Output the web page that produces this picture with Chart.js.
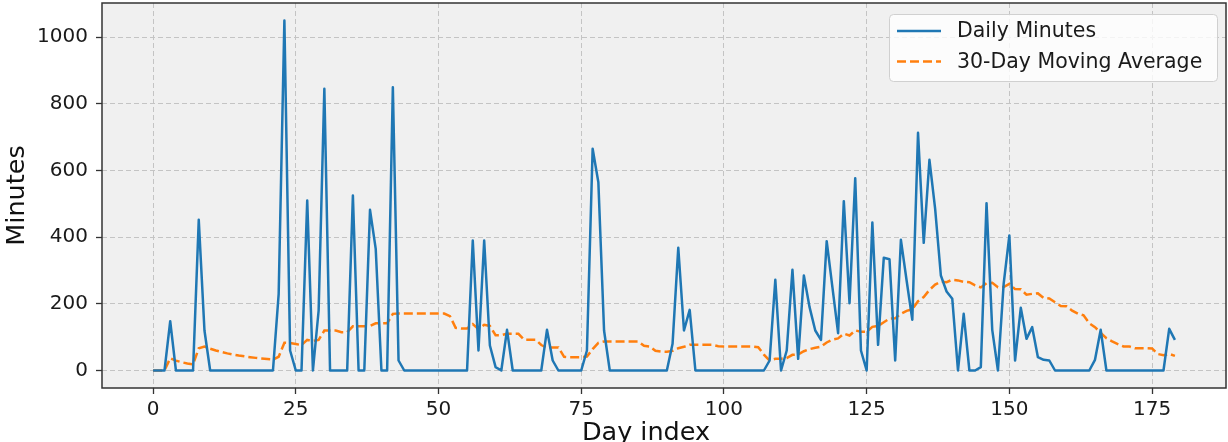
<!DOCTYPE html>
<html>
<head>
<meta charset="utf-8">
<script src="https://cdn.jsdelivr.net/npm/chart.js@4.4.0/dist/chart.umd.min.js"></script>
<style>
  html, body { margin: 0; padding: 0; background: #fff; }
  canvas { display: block; }
</style>
</head>
<body>
<canvas id="graph01" width="1228" height="442"></canvas>
<script>
// minutes per day (index = day)
const dailyMinutes = [
  0, 0, 0, 148, 0, 0, 0, 0, 452, 120,
  0, 0, 0, 0, 0, 0, 0, 0, 0, 0,
  0, 0, 230, 1050, 60, 0, 0, 510, 0, 180,
  845, 0, 0, 0, 0, 525, 0, 0, 482, 365,
  0, 0, 850, 30, 0, 0, 0, 0, 0, 0,
  0, 0, 0, 0, 0, 0, 390, 60, 390, 75,
  10, 0, 122, 0, 0, 0, 0, 0, 0, 122,
  30, 0, 0, 0, 0, 0, 60, 665, 565, 120,
  0, 0, 0, 0, 0, 0, 0, 0, 0, 0,
  0, 80, 368, 120, 182, 0, 0, 0, 0, 0,
  0, 0, 0, 0, 0, 0, 0, 0, 30, 272,
  0, 60, 302, 35, 285, 190, 120, 92, 388, 250,
  112, 508, 202, 577, 60, 0, 444, 77, 338, 334,
  30, 392, 270, 152, 713, 383, 632, 485, 285, 237,
  215, 0, 170, 0, 0, 10, 502, 122, 0, 260,
  405, 30, 188, 95, 130, 40, 32, 30, 0, 0,
  0, 0, 0, 0, 0, 32, 122, 0, 0, 0,
  0, 0, 0, 0, 0, 0, 0, 0, 125, 92
];

// 30-day moving average as drawn in the picture
const movingAverage = [
  0, 0, 0, 37.0, 29.6, 24.7, 21.1, 18.5, 66.7, 72.0,
  65.5, 60.0, 55.4, 51.4, 48.0, 45.0, 42.4, 40.0, 37.9, 36.0,
  34.3, 32.7, 41.3, 83.3, 82.4, 79.2, 76.3, 91.8, 88.6, 91.7,
  119.8, 119.8, 119.8, 114.9, 114.9, 132.4, 132.4, 132.4, 133.4, 141.6,
  141.6, 141.6, 169.9, 170.9, 170.9, 170.9, 170.9, 170.9, 170.9, 170.9,
  170.9, 170.9, 163.2, 128.2, 126.2, 126.2, 139.2, 124.2, 137.2, 133.7,
  105.9, 105.9, 110.0, 110.0, 110.0, 92.5, 92.5, 92.5, 76.4, 68.3,
  69.3, 69.3, 41.0, 40.0, 40.0, 40.0, 42.0, 64.1, 83.0, 87.0,
  87.0, 87.0, 87.0, 87.0, 87.0, 87.0, 74.0, 72.0, 59.0, 56.5,
  56.1, 58.8, 67.0, 71.0, 77.1, 77.1, 77.1, 77.1, 77.1, 73.0,
  72.0, 72.0, 72.0, 72.0, 72.0, 72.0, 70.0, 47.8, 30.0, 35.1,
  35.1, 37.1, 47.1, 48.3, 57.8, 64.1, 68.1, 71.2, 84.1, 92.5,
  96.2, 110.5, 104.9, 120.2, 116.1, 116.1, 130.9, 133.5, 144.7, 155.9,
  156.9, 169.9, 178.9, 184.0, 207.8, 220.5, 241.6, 257.8, 266.3, 265.1,
  272.3, 270.3, 265.9, 264.7, 255.2, 249.2, 261.9, 262.9, 250.0, 250.3,
  260.1, 244.2, 243.7, 227.6, 230.0, 231.3, 217.6, 216.0, 204.7, 193.6,
  192.6, 179.5, 170.5, 165.5, 141.7, 130.0, 113.0, 96.8, 87.3, 79.4,
  72.3, 72.3, 66.6, 66.6, 66.6, 66.3, 49.5, 45.5, 49.6, 44.0
];

const seriesLabels = ['Daily Minutes', '30-Day Moving Average'];
const xTicks = [0, 25, 50, 75, 100, 125, 150, 175];
const yTicks = [0, 200, 400, 600, 800, 1000];
const xTitle = 'Day index';
const yTitle = 'Minutes';

const FONT = "'DejaVu Sans', sans-serif";

/**
 * fond, cadre, légende et titres des axes
 */
const decor = {
  id: 'decor',
  beforeDraw(chart) {
    const { ctx, chartArea: a } = chart;
    ctx.save();
    ctx.fillStyle = '#ffffff';
    ctx.fillRect(0, 0, chart.width, chart.height);
    ctx.fillStyle = '#f0f0f0';
    ctx.fillRect(a.left, a.top, a.right - a.left, a.bottom - a.top);
    ctx.restore();
  },
  afterDraw(chart) {
    const { ctx, chartArea: a } = chart;
    ctx.save();
    // cadre
    ctx.strokeStyle = '#333333';
    ctx.lineWidth = 1.5;
    ctx.strokeRect(a.left, a.top, a.right - a.left, a.bottom - a.top);

    // légende
    const bx = 889, by = 14, bw = 328, bh = 67;
    ctx.beginPath();
    ctx.roundRect(bx + 0.5, by + 0.5, bw, bh, 4);
    ctx.fillStyle = 'rgba(255,255,255,0.8)';
    ctx.fill();
    ctx.strokeStyle = '#d0d0d0';
    ctx.lineWidth = 1;
    ctx.stroke();
    ctx.font = '20.5px ' + FONT;
    ctx.textBaseline = 'middle';
    ctx.textAlign = 'left';
    chart.data.datasets.forEach((ds, i) => {
      const y = 31 + i * 30.5;
      ctx.beginPath();
      ctx.setLineDash(ds.borderDash || []);
      ctx.strokeStyle = ds.borderColor;
      ctx.lineWidth = ds.borderWidth;
      ctx.moveTo(897, y);
      ctx.lineTo(941, y);
      ctx.stroke();
      ctx.setLineDash([]);
      ctx.fillStyle = '#1a1a1a';
      ctx.fillText(ds.label, 957, y + 1);
    });

    // titres des axes
    ctx.fillStyle = '#111111';
    ctx.font = '25.5px ' + FONT;
    ctx.textAlign = 'center';
    ctx.textBaseline = 'alphabetic';
    ctx.fillText(xTitle, 646, 440);
    ctx.translate(24, (a.top + a.bottom) / 2);
    ctx.rotate(-Math.PI / 2);
    ctx.fillText(yTitle, 0, 0);
    ctx.restore();
  }
};

function dessine() {
  const ctx = document.getElementById('graph01').getContext('2d');
  const data = {
    datasets: [
      {
        label: seriesLabels[0],
        data: dailyMinutes.map((v, i) => ({ x: i, y: v })),
        borderColor: '#1f77b4',
        borderWidth: 2.5,
        borderJoinStyle: 'round',
        pointRadius: 0,
        tension: 0,
        fill: false
      },
      {
        label: seriesLabels[1],
        data: movingAverage.map((v, i) => ({ x: i, y: v })),
        borderColor: '#ff7f0e',
        borderWidth: 2.5,
        borderDash: [9, 4],
        borderCapStyle: 'butt',
        pointRadius: 0,
        tension: 0,
        fill: false
      }
    ]
  };
  const tickFont = { family: FONT, size: 20 };
  const options = {
    responsive: false,
    animation: false,
    devicePixelRatio: 1,
    layout: { padding: { top: 3, right: 2, left: 0, bottom: 0 } },
    plugins: { legend: { display: false }, tooltip: { enabled: false }, title: { display: false } },
    scales: {
      x: {
        type: 'linear',
        min: -8.95, max: 187.95,
        afterBuildTicks: (s) => { s.ticks = xTicks.map(v => ({ value: v })); },
        afterFit: (s) => { s.height = 54; s.paddingLeft = 0; s.paddingRight = 0; },
        ticks: { font: tickFont, color: '#1a1a1a', padding: 4, maxRotation: 0, autoSkip: false, callback: (v) => String(v) },
        grid: { color: '#c4c4c4', lineWidth: 1, tickLength: 6, tickColor: '#333333', tickWidth: 1.3, tickBorderDash: [] },
        border: { display: false, dash: [5, 3] }
      },
      y: {
        type: 'linear',
        min: -52.5, max: 1102.5,
        afterBuildTicks: (s) => { s.ticks = yTicks.map(v => ({ value: v })); },
        afterFit: (s) => { s.width = 102; s.paddingTop = 0; s.paddingBottom = 0; },
        ticks: { font: tickFont, color: '#1a1a1a', padding: 8, callback: (v) => String(v) },
        grid: { color: '#c4c4c4', lineWidth: 1, tickLength: 6, tickColor: '#333333', tickWidth: 1.3, tickBorderDash: [] },
        border: { display: false, dash: [5, 3] }
      }
    }
  };
  new Chart(ctx, { type: 'line', data: data, options: options, plugins: [decor] });
}

dessine();
</script>
</body>
</html>
